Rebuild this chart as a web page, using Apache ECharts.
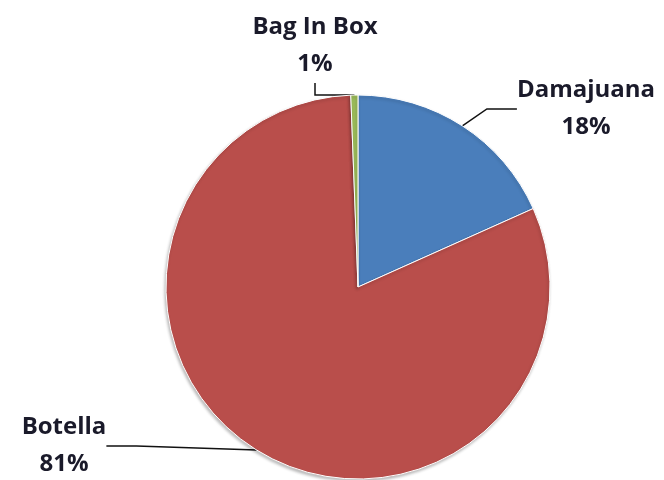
<!DOCTYPE html>
<html>
<head>
<meta charset="utf-8">
<script src="https://cdn.jsdelivr.net/npm/echarts@6/dist/echarts.min.js"></script>
<style>
html,body{margin:0;padding:0;background:#fff;}
#chart{width:664px;height:480px;}
</style>
</head>
<body>
<div id="chart"></div>
<script>
var categories = ['Damajuana', 'Botella', 'Bag In Box'];
var values = [18.3, 81.1, 0.6];
var colors = ['#4a7ebb', '#b94e4b', '#9bbb59'];
var labelPos = [[586, 109], [64, 446], [315, 46]];

var chart = echarts.init(document.getElementById('chart'));
chart.setOption({
  animation: false,
  backgroundColor: '#ffffff',
  series: [{
    type: 'pie',
    center: [358, 287],
    radius: 192,
    startAngle: 90,
    clockwise: true,
    percentPrecision: 0,
    avoidLabelOverlap: false,
    data: categories.map(function (c, i) {
      return { name: c, value: values[i], itemStyle: { color: colors[i] } };
    }),
    itemStyle: {
      borderColor: '#ffffff',
      borderWidth: 1,
      shadowColor: 'rgba(0,0,0,0.25)',
      shadowBlur: 3,
      shadowOffsetX: -1,
      shadowOffsetY: 2
    },
    label: {
      show: true,
      formatter: '{b}\n{d}%',
      fontFamily: 'Open Sans',
      fontWeight: 'bold',
      fontSize: 24,
      lineHeight: 37,
      color: '#1a1a2a',
      align: 'center'
    },
    labelLine: {
      show: true,
      lineStyle: { color: '#111', width: 1.5 }
    },
    labelLayout: function (params) {
      var p = labelPos[params.dataIndex];
      return { x: p[0], y: p[1], align: 'center', verticalAlign: 'middle' };
    },
    emphasis: { disabled: true }
  }]
});
</script>
</body>
</html>
